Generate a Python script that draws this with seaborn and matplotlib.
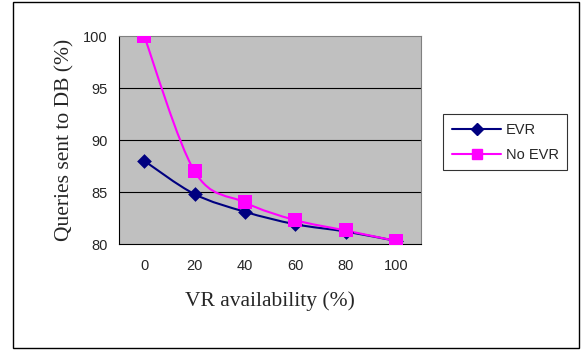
import numpy as np
import matplotlib
matplotlib.use("Agg")
import matplotlib.pyplot as plt
from matplotlib.path import Path
from matplotlib.patches import PathPatch, Rectangle
from matplotlib.lines import Line2D
import seaborn as sns
import pandas as pd

categories = ["0", "20", "40", "60", "80", "100"]
evr = [88.0, 84.8, 83.1, 81.9, 81.2, 80.3]
no_evr = [100.0, 87.0, 84.0, 82.3, 81.3, 80.3]
series_names = ["EVR", "No EVR"]
y_ticks = [80, 85, 90, 95, 100]

sns.set_style("white")
plt.rcParams["font.family"] = ["Liberation Sans", "DejaVu Sans"]

fig = plt.figure(figsize=(5.81, 3.5), dpi=100)
ax = fig.add_axes([119/581, 1-244/350, (421-119)/581, (244-36)/350])
ax.set_facecolor("#C0C0C0")

colors = {"EVR": "#000080", "No EVR": "#FF00FF"}
markers = {"EVR": "D", "No EVR": "s"}
msizes = {"EVR": 7.5, "No EVR": 9.5}

xs = np.arange(len(categories))
df = pd.DataFrame({
    "x": np.concatenate([xs, xs]),
    "y": evr + no_evr,
    "series": [series_names[0]]*len(evr) + [series_names[1]]*len(no_evr),
})

def smooth_path(x, y):
    pts = np.column_stack([x, y]).astype(float)
    verts = [pts[0]]
    codes = [Path.MOVETO]
    n = len(pts)
    for i in range(n - 1):
        p0 = pts[i-1] if i > 0 else pts[i]
        p1 = pts[i]
        p2 = pts[i+1]
        p3 = pts[i+2] if i + 2 < n else pts[i+1]
        c1 = p1 + (p2 - p0) / 6.0
        c2 = p2 - (p3 - p1) / 6.0
        verts += [c1, c2, p2]
        codes += [Path.CURVE4]*3
    return Path(verts, codes)

for name, vals in zip(series_names, [evr, no_evr]):
    ax.add_patch(PathPatch(smooth_path(xs, vals), facecolor="none",
                           edgecolor=colors[name], lw=1.5, zorder=3))

for name in series_names:
    sub = df[df.series == name]
    sns.scatterplot(data=sub, x="x", y="y", ax=ax, marker=markers[name],
                    color=colors[name], s=msizes[name]**2, linewidth=0,
                    zorder=4, legend=False)

ax.set_xlim(-0.5, len(categories) - 0.5)
ax.set_ylim(80, 100)
ax.set_yticks(y_ticks)
ax.set_yticklabels([str(t) for t in y_ticks], fontsize=10.5)
for t in y_ticks[1:-1]:
    ax.axhline(t, color="black", lw=0.8, zorder=1)

ax.set_xticks(xs)
ax.set_xticklabels(categories, fontsize=10.5)
ax.set_xticks(np.arange(-0.5, len(categories)), minor=True)
ax.tick_params(axis="x", which="major", length=0, pad=11)
ax.tick_params(axis="x", which="minor", length=5, width=0.8, direction="out", color="black")
ax.tick_params(axis="y", which="major", length=5, width=0.8, direction="out", color="black", pad=3)

for s in ["top", "right"]:
    ax.spines[s].set_color("#808080")
    ax.spines[s].set_linewidth(0.8)
for s in ["left", "bottom"]:
    ax.spines[s].set_color("black")
    ax.spines[s].set_linewidth(0.8)

ax.set_xlabel("VR availability (%)", family=["Liberation Serif"], fontsize=15.5, labelpad=13)
ax.set_ylabel("Queries sent to DB (%)", family=["Liberation Serif"], fontsize=15.5, labelpad=6)

handles = [Line2D([0], [0], color=colors[n], marker=markers[n], lw=1.5,
                  markersize=msizes[n]*0.8) for n in series_names]
leg = fig.legend(handles, series_names, loc="upper left",
                 bbox_to_anchor=(443/581, 1-114/350), fontsize=10.5,
                 frameon=True, fancybox=False, edgecolor="black",
                 handlelength=3.4, borderpad=0.6, labelspacing=0.75,
                 handletextpad=0.3, borderaxespad=0)
leg.get_frame().set_linewidth(0.8)

fig.patches.append(Rectangle((13/581, 2/350), (579-13)/581, (348-2)/350,
                             transform=fig.transFigure, fill=False,
                             edgecolor="black", lw=1.0))

fig.savefig("out.png", dpi=100)
